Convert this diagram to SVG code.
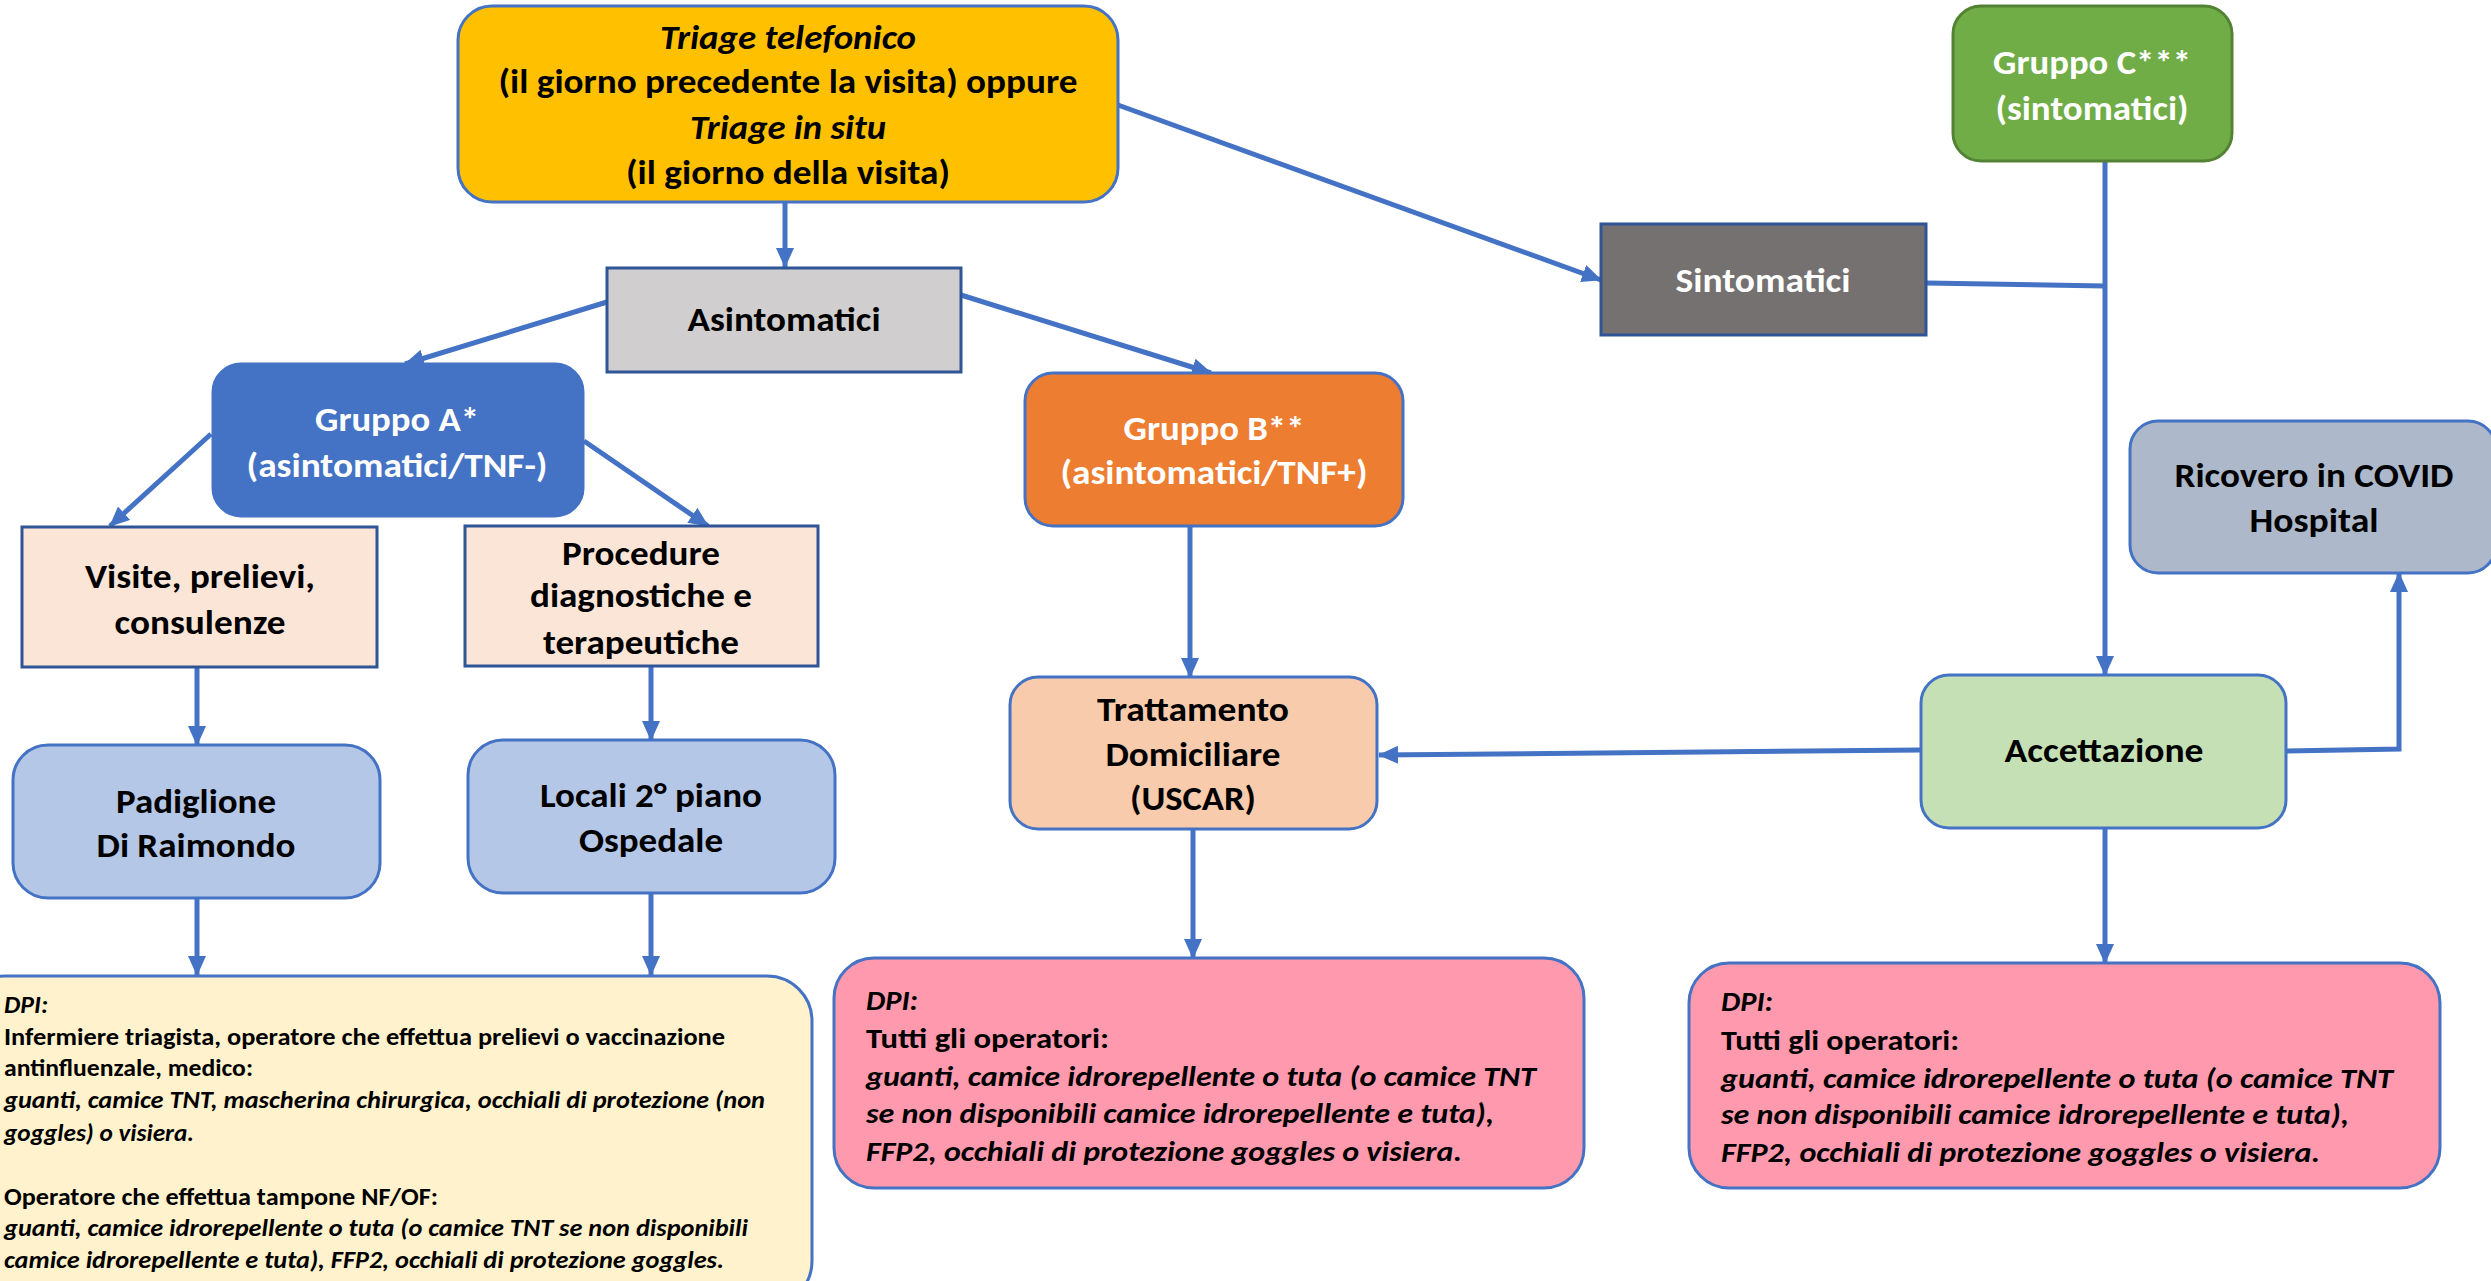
<svg xmlns="http://www.w3.org/2000/svg" width="2491" height="1281" viewBox="0 0 2491 1281">
<defs>
<marker id="arr" markerUnits="userSpaceOnUse" markerWidth="20" markerHeight="18" refX="19" refY="9" orient="auto" viewBox="0 0 20 18">
<path d="M0,0 L20,9 L0,18 z" fill="#4472C4"/>
</marker>
</defs>
<style>
text{font-family:Carlito,Lato,"Liberation Sans",sans-serif;font-weight:bold;fill:#000}
.m{font-size:34px;text-anchor:middle}
.w{fill:#fff}
.i{font-style:italic}
.s{font-size:28px}
.a{font-size:24px}
.ln{fill:none;stroke:#4472C4;stroke-width:5}
.ar{marker-end:url(#arr)}
.b1{stroke:#4472C4;stroke-width:3}
.b2{stroke:#2F5597;stroke-width:3}
</style>
<g id="connectors">
<path class="ln ar" d="M785,202 L785,267"/>
<path class="ln ar" d="M1118,105 L1601,280"/>
<path class="ln ar" d="M607,302 L405,364"/>
<path class="ln ar" d="M961,295 L1211,373"/>
<path class="ln ar" d="M211,434 L110,526"/>
<path class="ln ar" d="M584,441 L708,526"/>
<path class="ln ar" d="M197,668 L197,745"/>
<path class="ln ar" d="M651,666 L651,740"/>
<path class="ln ar" d="M197,898 L197,975"/>
<path class="ln ar" d="M651,893 L651,975"/>
<path class="ln ar" d="M1190,526 L1190,677"/>
<path class="ln ar" d="M1193,829 L1193,958"/>
<path class="ln ar" d="M2105,161 L2105,675"/>
<path class="ln" d="M1926,283 L2105,286"/>
<path class="ln ar" d="M1921,750 L1379,755"/>
<path class="ln ar" d="M2286,751 L2399,749 L2399,573"/>
<path class="ln ar" d="M2105,828 L2105,963"/>
</g>
<g id="triage">
<rect class="b1" x="458" y="6" width="660" height="196" rx="34" fill="#FFC000"/>
<text class="m i" x="788" y="49" textLength="256" lengthAdjust="spacingAndGlyphs">Triage telefonico</text>
<text class="m" x="788" y="93" textLength="579" lengthAdjust="spacingAndGlyphs">(il giorno precedente la visita) oppure</text>
<text class="m i" x="788" y="139" textLength="196" lengthAdjust="spacingAndGlyphs">Triage in situ</text>
<text class="m" x="788" y="184" textLength="324" lengthAdjust="spacingAndGlyphs">(il giorno della visita)</text>
</g>
<g id="asintomatici">
<rect class="b2" x="607" y="268" width="354" height="104" fill="#D0CECE"/>
<text class="m" x="784" y="331" textLength="193" lengthAdjust="spacingAndGlyphs">Asintomatici</text>
</g>
<g id="sintomatici">
<rect class="b2" x="1601" y="224" width="325" height="111" fill="#767171"/>
<text class="m w" x="1763" y="292" textLength="175" lengthAdjust="spacingAndGlyphs">Sintomatici</text>
</g>
<g id="gruppo-c">
<rect x="1953" y="6" width="279" height="155" rx="28" fill="#70AD47" stroke="#548235" stroke-width="3"/>
<text class="m w" x="2092" y="74" textLength="198" lengthAdjust="spacingAndGlyphs">Gruppo C***</text>
<text class="m w" x="2092" y="120" textLength="193" lengthAdjust="spacingAndGlyphs">(sintomatici)</text>
</g>
<g id="ricovero">
<rect class="b1" x="2130" y="421" width="366" height="152" rx="28" fill="#ADB9CA"/>
<text class="m" x="2314" y="487" textLength="279" lengthAdjust="spacingAndGlyphs">Ricovero in COVID</text>
<text class="m" x="2314" y="532" textLength="129" lengthAdjust="spacingAndGlyphs">Hospital</text>
</g>
<g id="gruppo-a">
<rect class="b1" x="213" y="364" width="370" height="152" rx="28" fill="#4472C4"/>
<text class="m w" x="397" y="431" textLength="164" lengthAdjust="spacingAndGlyphs">Gruppo A*</text>
<text class="m w" x="397" y="477" textLength="301" lengthAdjust="spacingAndGlyphs">(asintomatici/TNF-)</text>
</g>
<g id="gruppo-b">
<rect class="b1" x="1025" y="373" width="378" height="153" rx="28" fill="#ED7D31"/>
<text class="m w" x="1214" y="440" textLength="181" lengthAdjust="spacingAndGlyphs">Gruppo B**</text>
<text class="m w" x="1214" y="484" textLength="307" lengthAdjust="spacingAndGlyphs">(asintomatici/TNF+)</text>
</g>
<g id="visite">
<rect class="b2" x="22" y="527" width="355" height="140" fill="#FBE5D6"/>
<text class="m" x="200" y="588" textLength="230" lengthAdjust="spacingAndGlyphs">Visite, prelievi,</text>
<text class="m" x="200" y="634" textLength="171" lengthAdjust="spacingAndGlyphs">consulenze</text>
</g>
<g id="procedure">
<rect class="b2" x="465" y="526" width="353" height="140" fill="#FBE5D6"/>
<text class="m" x="641" y="565" textLength="158" lengthAdjust="spacingAndGlyphs">Procedure</text>
<text class="m" x="641" y="607" textLength="222" lengthAdjust="spacingAndGlyphs">diagnostiche e</text>
<text class="m" x="641" y="654" textLength="196" lengthAdjust="spacingAndGlyphs">terapeutiche</text>
</g>
<g id="padiglione">
<rect class="b1" x="13" y="745" width="367" height="153" rx="35" fill="#B4C7E7"/>
<text class="m" x="196" y="813" textLength="160" lengthAdjust="spacingAndGlyphs">Padiglione</text>
<text class="m" x="196" y="857" textLength="199" lengthAdjust="spacingAndGlyphs">Di Raimondo</text>
</g>
<g id="locali">
<rect class="b1" x="468" y="740" width="367" height="153" rx="35" fill="#B4C7E7"/>
<text class="m" x="651" y="807" textLength="222" lengthAdjust="spacingAndGlyphs">Locali 2° piano</text>
<text class="m" x="651" y="852" textLength="144" lengthAdjust="spacingAndGlyphs">Ospedale</text>
</g>
<g id="trattamento">
<rect class="b1" x="1010" y="677" width="367" height="152" rx="28" fill="#F8CBAD"/>
<text class="m" x="1193" y="721" textLength="192" lengthAdjust="spacingAndGlyphs">Trattamento</text>
<text class="m" x="1193" y="766" textLength="175" lengthAdjust="spacingAndGlyphs">Domiciliare</text>
<text class="m" x="1193" y="810" textLength="126" lengthAdjust="spacingAndGlyphs">(USCAR)</text>
</g>
<g id="accettazione">
<rect class="b1" x="1921" y="675" width="365" height="153" rx="28" fill="#C5E0B4"/>
<text class="m" x="2104" y="762" textLength="199" lengthAdjust="spacingAndGlyphs">Accettazione</text>
</g>
<g id="dpi-a">
<rect class="b1" x="-40" y="976" width="852" height="330" rx="45" fill="#FFF2CC"/>
<text class="a i" x="4" y="1013" textLength="44" lengthAdjust="spacingAndGlyphs">DPI:</text>
<text class="a" x="4" y="1045" textLength="721" lengthAdjust="spacingAndGlyphs">Infermiere triagista, operatore che effettua prelievi o vaccinazione</text>
<text class="a" x="4" y="1076" textLength="249" lengthAdjust="spacingAndGlyphs">antinfluenzale, medico:</text>
<text class="a i" x="4" y="1108" textLength="761" lengthAdjust="spacingAndGlyphs">guanti, camice TNT, mascherina chirurgica, occhiali di protezione (non</text>
<text class="a i" x="4" y="1141" textLength="190" lengthAdjust="spacingAndGlyphs">goggles) o visiera.</text>
<text class="a" x="4" y="1205" textLength="434" lengthAdjust="spacingAndGlyphs">Operatore che effettua tampone NF/OF:</text>
<text class="a i" x="4" y="1236" textLength="744" lengthAdjust="spacingAndGlyphs">guanti, camice idrorepellente o tuta (o camice TNT se non disponibili</text>
<text class="a i" x="4" y="1268" textLength="720" lengthAdjust="spacingAndGlyphs">camice idrorepellente e tuta), FFP2, occhiali di protezione goggles.</text>
</g>
<g id="dpi-b">
<rect class="b1" x="834" y="958" width="750" height="230" rx="40" fill="#FF99AD"/>
<text class="s i" x="866" y="1010" textLength="52" lengthAdjust="spacingAndGlyphs">DPI:</text>
<text class="s" x="866" y="1048" textLength="243" lengthAdjust="spacingAndGlyphs">Tutti gli operatori:</text>
<text class="s i" x="866" y="1086" textLength="670" lengthAdjust="spacingAndGlyphs">guanti, camice idrorepellente o tuta (o camice TNT</text>
<text class="s i" x="866" y="1123" textLength="628" lengthAdjust="spacingAndGlyphs">se non disponibili camice idrorepellente e tuta),</text>
<text class="s i" x="866" y="1161" textLength="596" lengthAdjust="spacingAndGlyphs">FFP2, occhiali di protezione goggles o visiera.</text>
</g>
<g id="dpi-c">
<rect class="b1" x="1689" y="963" width="751" height="225" rx="40" fill="#FF99AD"/>
<text class="s i" x="1721" y="1011" textLength="52" lengthAdjust="spacingAndGlyphs">DPI:</text>
<text class="s" x="1721" y="1050" textLength="238" lengthAdjust="spacingAndGlyphs">Tutti gli operatori:</text>
<text class="s i" x="1721" y="1088" textLength="672" lengthAdjust="spacingAndGlyphs">guanti, camice idrorepellente o tuta (o camice TNT</text>
<text class="s i" x="1721" y="1124" textLength="628" lengthAdjust="spacingAndGlyphs">se non disponibili camice idrorepellente e tuta),</text>
<text class="s i" x="1721" y="1162" textLength="599" lengthAdjust="spacingAndGlyphs">FFP2, occhiali di protezione goggles o visiera.</text>
</g>
</svg>
